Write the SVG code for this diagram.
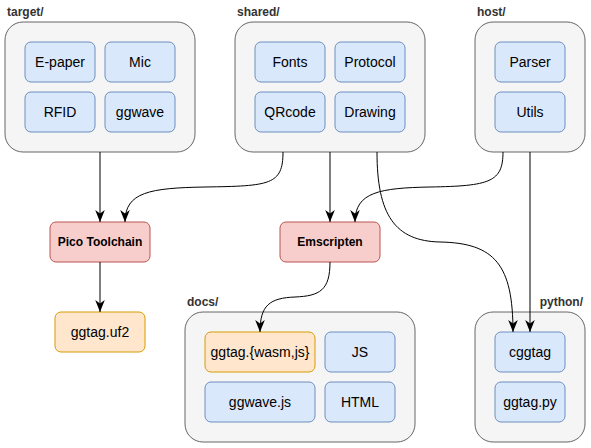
<svg xmlns="http://www.w3.org/2000/svg" width="591" height="448" viewBox="0 0 591 448">
<style>
.cl{fill:#f5f5f5;stroke:#666666;stroke-width:1}
.bl{fill:#dae8fc;stroke:#6c8ebf;stroke-width:1}
.rd{fill:#f8cecc;stroke:#b85450;stroke-width:1}
.or{fill:#ffe6cc;stroke:#d79b00;stroke-width:1}
.lb{font-family:"Liberation Sans",Arial,sans-serif;font-size:12px;font-weight:bold;fill:#333333}
.t{font-family:"Liberation Sans",Arial,sans-serif;font-size:14px;fill:#000000;text-anchor:middle;dominant-baseline:central}
.tb{font-family:"Liberation Sans",Arial,sans-serif;font-size:12px;font-weight:bold;fill:#000000;text-anchor:middle;dominant-baseline:central}
.e{fill:none;stroke:#000000;stroke-width:1;marker-end:url(#ah)}
</style>
<defs>
<marker id="ah" markerUnits="userSpaceOnUse" markerWidth="12" markerHeight="10" viewBox="0 0 10 8" refX="10" refY="4" orient="auto">
<path d="M0,0 L10,4 L0,8 L3,4 Z" fill="#000000"/>
</marker>
</defs>
<g id="target">
<rect class="cl" x="5" y="22" width="190" height="130" rx="18"/>
<text class="lb" x="7" y="16">target/</text>
</g>
<g id="epaper"><rect class="bl" x="25" y="42" width="70" height="40" rx="6"/><text class="t" x="60" y="62">E-paper</text></g>
<g id="mic"><rect class="bl" x="105" y="42" width="70" height="40" rx="6"/><text class="t" x="140" y="62">Mic</text></g>
<g id="rfid"><rect class="bl" x="25" y="92" width="70" height="40" rx="6"/><text class="t" x="60" y="112">RFID</text></g>
<g id="ggwave"><rect class="bl" x="105" y="92" width="70" height="40" rx="6"/><text class="t" x="140" y="112">ggwave</text></g>
<g id="shared">
<rect class="cl" x="235" y="22" width="190" height="130" rx="18"/>
<text class="lb" x="237" y="16">shared/</text>
</g>
<g id="fonts"><rect class="bl" x="255" y="42" width="70" height="40" rx="6"/><text class="t" x="290" y="62">Fonts</text></g>
<g id="protocol"><rect class="bl" x="335" y="42" width="70" height="40" rx="6"/><text class="t" x="370" y="62">Protocol</text></g>
<g id="qrcode"><rect class="bl" x="255" y="92" width="70" height="40" rx="6"/><text class="t" x="290" y="112">QRcode</text></g>
<g id="drawing"><rect class="bl" x="335" y="92" width="70" height="40" rx="6"/><text class="t" x="370" y="112">Drawing</text></g>
<g id="host">
<rect class="cl" x="475" y="22" width="110" height="130" rx="18"/>
<text class="lb" x="477" y="16">host/</text>
</g>
<g id="parser"><rect class="bl" x="495" y="42" width="70" height="40" rx="6"/><text class="t" x="530" y="62">Parser</text></g>
<g id="utils"><rect class="bl" x="495" y="92" width="70" height="40" rx="6"/><text class="t" x="530" y="112">Utils</text></g>
<g id="pico"><rect class="rd" x="50" y="222" width="100" height="40" rx="6"/><text class="tb" x="100" y="242">Pico Toolchain</text></g>
<g id="emscripten"><rect class="rd" x="280" y="222" width="100" height="40" rx="6"/><text class="tb" x="330" y="242">Emscripten</text></g>
<g id="uf2"><rect class="or" x="55" y="312" width="90" height="40" rx="6"/><text class="t" x="100" y="332">ggtag.uf2</text></g>
<g id="docs">
<rect class="cl" x="185" y="312" width="230" height="130" rx="18"/>
<text class="lb" x="187" y="306">docs/</text>
</g>
<g id="wasm"><rect class="or" x="205" y="332" width="110" height="40" rx="6"/><text class="t" x="260" y="352">ggtag.{wasm,js}</text></g>
<g id="js"><rect class="bl" x="325" y="332" width="70" height="40" rx="6"/><text class="t" x="360" y="352">JS</text></g>
<g id="ggwavejs"><rect class="bl" x="205" y="382" width="110" height="40" rx="6"/><text class="t" x="260" y="402">ggwave.js</text></g>
<g id="html"><rect class="bl" x="325" y="382" width="70" height="40" rx="6"/><text class="t" x="360" y="402">HTML</text></g>
<g id="python">
<rect class="cl" x="475" y="312" width="110" height="130" rx="18"/>
<text class="lb" x="583" y="306" text-anchor="end">python/</text>
</g>
<g id="cggtag"><rect class="bl" x="495" y="332" width="70" height="40" rx="6"/><text class="t" x="530" y="352">cggtag</text></g>
<g id="ggtagpy"><rect class="bl" x="495" y="382" width="70" height="40" rx="6"/><text class="t" x="530" y="402">ggtag.py</text></g>
<g id="connectors">
<path class="e" d="M100,152 L100,222"/>
<path class="e" d="M283,152 C283,185 270,186 205,187 C150,188 125,192 125,222"/>
<path class="e" d="M330,152 L330,222"/>
<path class="e" d="M503,152 C503,182 490,186 430,187 C380,188 355,192 355,222"/>
<path class="e" d="M377,152 C377,215 395,241 440,242 C495,243 513,265 513,332"/>
<path class="e" d="M530,152 L530,332"/>
<path class="e" d="M100,262 L100,312"/>
<path class="e" d="M330,262 C330,290 320,296 295,297 C270,298 260,305 260,332"/>
</g>
</svg>
